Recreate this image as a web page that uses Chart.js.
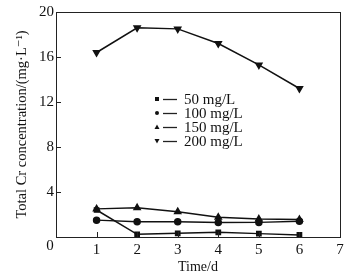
<!DOCTYPE html>
<html>
<head>
<meta charset="utf-8">
<script src="https://cdn.jsdelivr.net/npm/chart.js@4.4.1/dist/chart.umd.min.js"></script>
<style>
  body { margin: 0; background: #fff; }
  #wrap { width: 351px; height: 280px; }
</style>
</head>
<body>
<div id="wrap"><canvas id="c" width="351" height="280"></canvas></div>
<script>
const days = [1, 2, 3, 4, 5, 6];
const labels50 = '50 mg/L', labels100 = '100 mg/L', labels150 = '150 mg/L', labels200 = '200 mg/L';
const cr50 = [2.4, 0.24, 0.33, 0.42, 0.3, 0.18];
const cr100 = [1.5, 1.35, 1.35, 1.28, 1.3, 1.4];
const cr150 = [2.5, 2.6, 2.25, 1.75, 1.6, 1.55];
const cr200 = [16.4, 18.6, 18.5, 17.2, 15.3, 13.2];
const yTicks = [0, 4, 8, 12, 16, 20];
const xTicks = [0, 1, 2, 3, 4, 5, 6, 7];

const serif = '"Liberation Serif", "DejaVu Serif", serif';

function pts(vals) { return days.map((d, i) => ({ x: d, y: vals[i] })); }

function ds(label, vals, style, rot) {
  return {
    label: label,
    data: pts(vals),
    borderColor: '#111',
    backgroundColor: '#111',
    borderWidth: 1.5,
    pointStyle: style,
    rotation: rot || 0,
    pointRadius: style === 'triangle' ? 3.5 : 3,
    tension: 0
  };
}

// frame, inward ticks, shared origin label and the inside legend
const decor = {
  id: 'decor',
  afterDraw(chart) {
    const ctx = chart.ctx, a = chart.chartArea;
    const xs = chart.scales.x, ys = chart.scales.y;
    ctx.save();
    ctx.strokeStyle = '#222';
    ctx.lineWidth = 1;
    ctx.strokeRect(a.left + 0.5, a.top + 0.5, a.right - a.left, a.bottom - a.top);
    ctx.beginPath();
    xTicks.slice(1, -1).forEach(t => {
      const px = Math.round(xs.getPixelForValue(t)) + 0.5;
      ctx.moveTo(px, a.bottom); ctx.lineTo(px, a.bottom - 5);
    });
    yTicks.slice(1, -1).forEach(t => {
      const py = Math.round(ys.getPixelForValue(t)) + 0.5;
      ctx.moveTo(a.left, py); ctx.lineTo(a.left + 5, py);
    });
    ctx.stroke();

    ctx.font = '15px ' + serif;
    ctx.fillStyle = '#111';
    ctx.textBaseline = 'middle';
    ctx.textAlign = 'center';
    ctx.fillText(String(xTicks[0]), a.left - 6, a.bottom + 9);

    // legend
    ctx.textAlign = 'left';
    chart.data.datasets.forEach((d, i) => {
      const y = 99 + i * 14;
      const x = 157;
      ctx.beginPath();
      if (d.pointStyle === 'rect') ctx.rect(x - 2, y - 2, 4, 4);
      else if (d.pointStyle === 'circle') ctx.arc(x, y, 2, 0, Math.PI * 2);
      else if (d.rotation === 180) { ctx.moveTo(x - 2.5, y - 2); ctx.lineTo(x + 2.5, y - 2); ctx.lineTo(x, y + 2.5); }
      else { ctx.moveTo(x - 2.5, y + 2); ctx.lineTo(x + 2.5, y + 2); ctx.lineTo(x, y - 2.5); }
      ctx.fill();
      ctx.beginPath();
      ctx.lineWidth = 1.3;
      ctx.moveTo(x + 6, y + 0.5); ctx.lineTo(x + 20, y + 0.5);
      ctx.stroke();
      ctx.fillText(d.label, x + 27, y + 1);
    });
    ctx.restore();
  }
};

new Chart(document.getElementById('c'), {
  type: 'line',
  data: {
    datasets: [
      ds(labels50, cr50, 'rect'),
      ds(labels100, cr100, 'circle'),
      ds(labels150, cr150, 'triangle'),
      ds(labels200, cr200, 'triangle', 180)
    ]
  },
  options: {
    responsive: false,
    animation: false,
    layout: { padding: { top: 12, right: 11, left: 0, bottom: 0 } },
    plugins: { legend: { display: false }, tooltip: { enabled: false } },
    scales: {
      x: {
        type: 'linear', min: 0, max: 7,
        afterBuildTicks: s => { s.ticks = xTicks.map(v => ({ value: v })); },
        afterFit: s => { s.height = 43; },
        grid: { display: false, drawTicks: false, tickLength: 0 },
        border: { display: false },
        ticks: { color: '#111', font: { family: serif, size: 15 }, padding: 4, maxRotation: 0,
                 callback: v => (v === 0 ? '' : v) },
        title: { display: true, text: 'Time/d', color: '#111', font: { family: serif, size: 14 }, padding: { top: 6 } }
      },
      y: {
        min: 0, max: 20,
        afterBuildTicks: s => { s.ticks = yTicks.map(v => ({ value: v })); },
        afterFit: s => { s.width = 56; },
        grid: { display: false, drawTicks: false, tickLength: 0 },
        border: { display: false },
        ticks: { color: '#111', font: { family: serif, size: 15 }, padding: 2,
                 callback: v => (v === 0 ? '' : v) },
        title: { display: true, text: 'Total Cr concentration/(mg\u00b7L\u207b\u00b9)', color: '#111', font: { family: serif, size: 14.5 }, padding: { top: 13, bottom: 0 } }
      }
    }
  },
  plugins: [decor]
});
</script>
</body>
</html>
